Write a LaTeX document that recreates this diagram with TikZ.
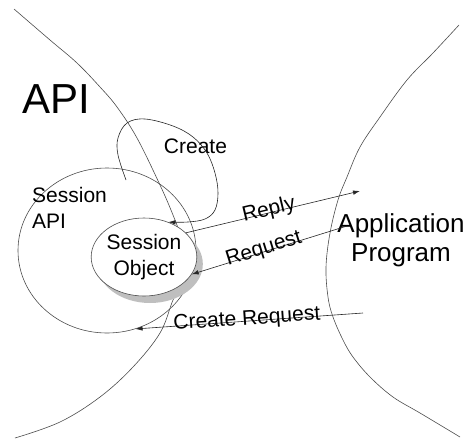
\documentclass[tikz,border=0pt]{standalone}
\usepackage{fontspec}
\setmainfont{Liberation Sans}
\usetikzlibrary{arrows.meta,shadows,shapes.geometric}

\begin{document}
\begin{tikzpicture}[x=1pt,y=-1pt,
  curve/.style={draw=black!70, line width=0.6pt},
  conn/.style={draw=black!85, line width=0.6pt, -{Latex[length=7pt,width=4.5pt]}},
  lbl/.style={font=\fontsize{21}{26}\selectfont, inner sep=0pt},
]
\useasboundingbox (0,0) rectangle (470,439);

% large boundary curves
\draw[curve] plot[smooth, tension=0.6] coordinates {(14,9) (50,40) (77,63) (100,87) (117,107) (137,138) (160,185) (173,215) (182,240) (186,262) (182,283) (173,300) (160,333) (133,367) (100,397) (60,422) (15,438)};
\draw[curve] plot[smooth, tension=0.6] coordinates {(459,25) (433,53) (407,80) (380,117) (360,147) (347,177) (338,200) (330,233) (326,267) (328,297) (333,317) (343,340) (353,357) (370,377) (393,397) (420,413) (460,437)};

% Session API ellipse
\node[curve, ellipse, minimum width=178pt, minimum height=165pt, inner sep=0pt] (sapi) at (107,250.5) {};
\node[lbl, align=left, anchor=north west] (sapitext) at (32,187) {Session\\API};

% Session Object
\node[lbl, ellipse, draw=black!70, line width=0.6pt, fill=white, minimum width=102pt, minimum height=78pt, align=center,
      drop shadow={shadow xshift=6pt, shadow yshift=-7pt, fill=black!25, opacity=1}] (so) at (144,257) {Session\\Object};

% texts
\node[font=\fontsize{42}{48}\selectfont, inner sep=0pt, anchor=base west] (api) at (22,113) {API};
\node[lbl, anchor=base] (create) at (195.5,153) {Create};
\node[font=\fontsize{26}{29}\selectfont, inner sep=0pt, align=center] (app) at (401,240) {Application\\Program};

% free ends
\coordinate (loopstart) at (126,180);
\coordinate (replyend) at (360,191);
\coordinate (reqstart) at (347,226);
\coordinate (crstart) at (363,313);

% Create loop
\draw[conn] plot[smooth, tension=0.6] coordinates {(loopstart) (118,155) (118,138) (127,123) (145,119) (173,126) (193,137) (207,153) (215,173) (218,193) (215,210) (205,219) (188,222) (so.55)};

% connectors
\draw[conn] (so.30) -- node[lbl, sloped, pos=0.48, yshift=2.5pt] {Reply} (replyend);
\draw[conn] (reqstart) -- node[lbl, sloped, pos=0.53, yshift=2.5pt] {Request} (so.-20);
\draw[conn] (crstart) -- node[lbl, sloped, pos=0.51, yshift=1.5pt] {Create Request} (sapi.-70);
\end{tikzpicture}
\end{document}
